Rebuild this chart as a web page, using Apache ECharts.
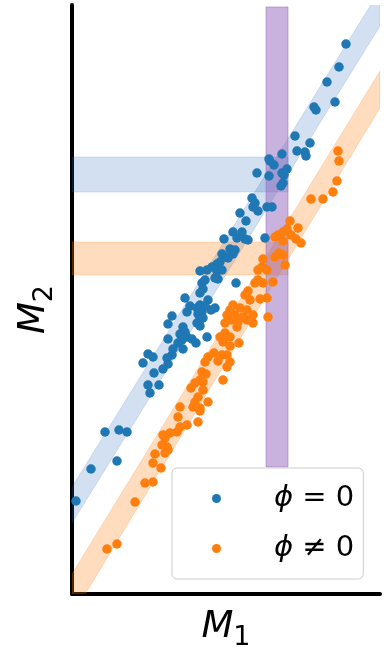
<!DOCTYPE html>
<html><head><meta charset="utf-8">
<script src="https://cdn.jsdelivr.net/npm/echarts@6/dist/echarts.min.js"></script>
<style>html,body{margin:0;padding:0;background:#fff}#c{width:388px;height:647px}</style>
</head><body><div id="c"></div>
<script>
// Axis ranges (arbitrary units, no ticks shown)
const xRange = [0, 308];
const yRange = [0, 589];

// Diagonal bands: value at each end of bandX
const bandX = [0, 308];
const blueBandLow = [71, 568];
const blueBandHigh = [107, 604];
const orangeBandLow = [-22, 486];
const orangeBandHigh = [20, 523];

// Horizontal bands (y ranges) spanning hBandX
const hBandX = [0, 216];
const blueHBand = [402, 437];
const orangeHBand = [319, 352];

// Vertical purple band
const purpleX = [194, 216];
const purpleY = [127, 587];

const labelX = 'M';
const labelXSub = '1';
const labelY = 'M';
const labelYSub = '2';
const seriesNames = ['ϕ = 0', 'ϕ ≠ 0'];

const bluePoints = [
[274,550],[267,527],[255,512],[242,487],[244,484],[263,492],[223,458],[238,451],[225,443],[233,442],
[234,438],[210,440],[197,435],[198,433],[202,429],[185,421],[197,418],[210,421],[215,425],[212,419],
[211,411],[209,408],[180,396],[183,391],[181,387],[186,383],[195,387],[200,387],[168,381],[174,373],
[161,362],[170,362],[173,355],[165,356],[176,354],[193,356],[152,355],[158,345],[163,344],[161,340],
[150,340],[153,337],[156,336],[148,332],[145,330],[140,327],[145,323],[150,324],[135,324],[146,315],
[128,323],[164,311],[143,316],[133,314],[130,311],[131,305],[128,301],[136,294],[133,288],[128,289],
[125,286],[118,288],[113,296],[143,286],[130,282],[100,278],[96,270],[111,267],[128,274],[115,282],
[126,280],[131,276],[125,271],[128,268],[139,284],[96,255],[108,260],[113,262],[115,257],[110,254],
[106,251],[120,255],[124,251],[135,257],[101,245],[111,245],[100,239],[95,236],[96,230],[76,240],
[81,237],[71,231],[91,225],[82,221],[76,209],[87,209],[78,201],[33,162],[47,164],[55,162],
[45,133],[19,125],[4,93]
];

const orangePoints = [
[266,443],[267,433],[265,413],[261,402],[239,395],[251,395],[218,373],[226,366],[215,365],[224,355],
[211,362],[206,359],[203,357],[219,359],[229,351],[211,353],[207,341],[211,339],[213,329],[203,337],
[191,335],[190,327],[195,324],[186,324],[201,312],[191,311],[186,314],[183,311],[176,303],[173,299],
[178,294],[188,295],[195,296],[161,289],[158,284],[155,279],[168,286],[163,279],[171,277],[160,274],
[166,272],[153,271],[175,284],[196,277],[181,271],[165,267],[175,274],[181,279],[153,261],[151,252],
[158,257],[167,251],[158,248],[148,257],[142,241],[146,233],[150,239],[155,239],[158,232],[136,237],
[155,227],[133,232],[130,222],[134,220],[128,214],[151,214],[123,211],[131,212],[131,204],[119,206],
[126,197],[136,192],[128,186],[121,187],[108,187],[123,192],[106,177],[115,169],[126,172],[128,183],
[108,167],[105,162],[98,161],[91,159],[93,156],[90,149],[95,147],[96,144],[93,141],[83,140],
[81,131],[89,126],[73,111],[81,112],[63,92],[45,50],[35,45]
];

const BLUE = '#1f77b4', ORANGE = '#ff7f0e';
const FONT = 'DejaVu Sans';

function polySeries(pointsFn, fill, stroke, z) {
  return {
    type: 'custom', clip: true, silent: true, z: z,
    data: [[0, 0]],
    renderItem: function (params, api) {
      const pts = pointsFn().map(p => api.coord(p));
      return { type: 'polygon', shape: { points: pts },
        style: { fill: fill, stroke: stroke, lineWidth: 1 } };
    }
  };
}
function diag(lo, hi) {
  return () => [[bandX[0], lo[0]], [bandX[1], lo[1]], [bandX[1], hi[1]], [bandX[0], hi[0]]];
}
function rect(xs, ys) {
  return () => [[xs[0], ys[0]], [xs[1], ys[0]], [xs[1], ys[1]], [xs[0], ys[1]]];
}

const chart = echarts.init(document.getElementById('c'), null, { renderer: 'canvas' });

const mStyle = { fontFamily: FONT, fontStyle: 'italic', fontSize: 37, lineHeight: 44, verticalAlign: 'top', color: '#000' };
const xRich = {
  m: mStyle,
  s: { fontFamily: FONT, fontSize: 27, lineHeight: 27, padding: [15, 0, 0, 0], verticalAlign: 'top', color: '#000' }
};
const yRich = {
  m: mStyle,
  s: { fontFamily: FONT, fontSize: 27, lineHeight: 27, padding: [15, 20, 0, 0], verticalAlign: 'top', color: '#000' }
};

chart.setOption({
  animation: false,
  backgroundColor: '#fff',
  grid: { left: 72, right: 8, top: 5, bottom: 53, containLabel: false, outerBoundsMode: 'none' },
  xAxis: {
    type: 'value', min: xRange[0], max: xRange[1],
    axisLine: { show: true, onZero: false, lineStyle: { color: '#000', width: 4 } },
    axisTick: { show: false }, axisLabel: { show: false }, splitLine: { show: false },
    name: '{m|' + labelX + '}{s|' + labelXSub + '}', nameLocation: 'middle', nameGap: 15,
    nameTextStyle: { rich: xRich }
  },
  yAxis: {
    type: 'value', min: yRange[0], max: yRange[1],
    axisLine: { show: true, onZero: false, lineStyle: { color: '#000', width: 4 } },
    axisTick: { show: false }, axisLabel: { show: false }, splitLine: { show: false },
    name: '{m|' + labelY + '}{s|' + labelYSub + '}', nameLocation: 'middle', nameGap: 12, nameRotate: 90,
    nameTextStyle: { rich: yRich }
  },
  legend: {
    data: seriesNames, orient: 'vertical', left: 172, top: 468,
    padding: [16, 9, 16, 40], itemGap: 21, itemWidth: 9, itemHeight: 9, icon: 'circle',
    backgroundColor: 'rgba(255,255,255,0.85)', borderColor: '#cccccc', borderWidth: 1, borderRadius: 5,
    formatter: n => '{sp|}{p|ϕ}{t|' + n.slice(1) + '}',
    textStyle: {
      rich: {
        sp: { width: 48, lineHeight: 36 },
        p: { fontFamily: FONT, fontStyle: 'italic', fontSize: 29, lineHeight: 36, color: '#000' },
        t: { fontFamily: FONT, fontSize: 29, lineHeight: 36, color: '#000' }
      }
    }
  },
  series: [
    polySeries(diag(blueBandLow, blueBandHigh), 'rgba(35,100,190,0.2)', 'rgba(35,100,190,0.15)', 1),
    polySeries(diag(orangeBandLow, orangeBandHigh), 'rgba(255,127,14,0.27)', 'rgba(255,127,14,0.2)', 1),
    polySeries(rect(hBandX, blueHBand), 'rgba(35,100,190,0.2)', 'rgba(35,100,190,0.15)', 1),
    polySeries(rect(hBandX, orangeHBand), 'rgba(255,127,14,0.27)', 'rgba(255,127,14,0.2)', 1),
    polySeries(rect(purpleX, purpleY), 'rgba(148,103,189,0.5)', 'rgba(148,103,189,0.5)', 1),
    { name: seriesNames[0], type: 'scatter', data: bluePoints, symbolSize: 9.5, z: 3,
      itemStyle: { color: BLUE, opacity: 1 } },
    { name: seriesNames[1], type: 'scatter', data: orangePoints, symbolSize: 9.5, z: 3,
      itemStyle: { color: ORANGE, opacity: 1 } }
  ]
});
</script></body></html>
